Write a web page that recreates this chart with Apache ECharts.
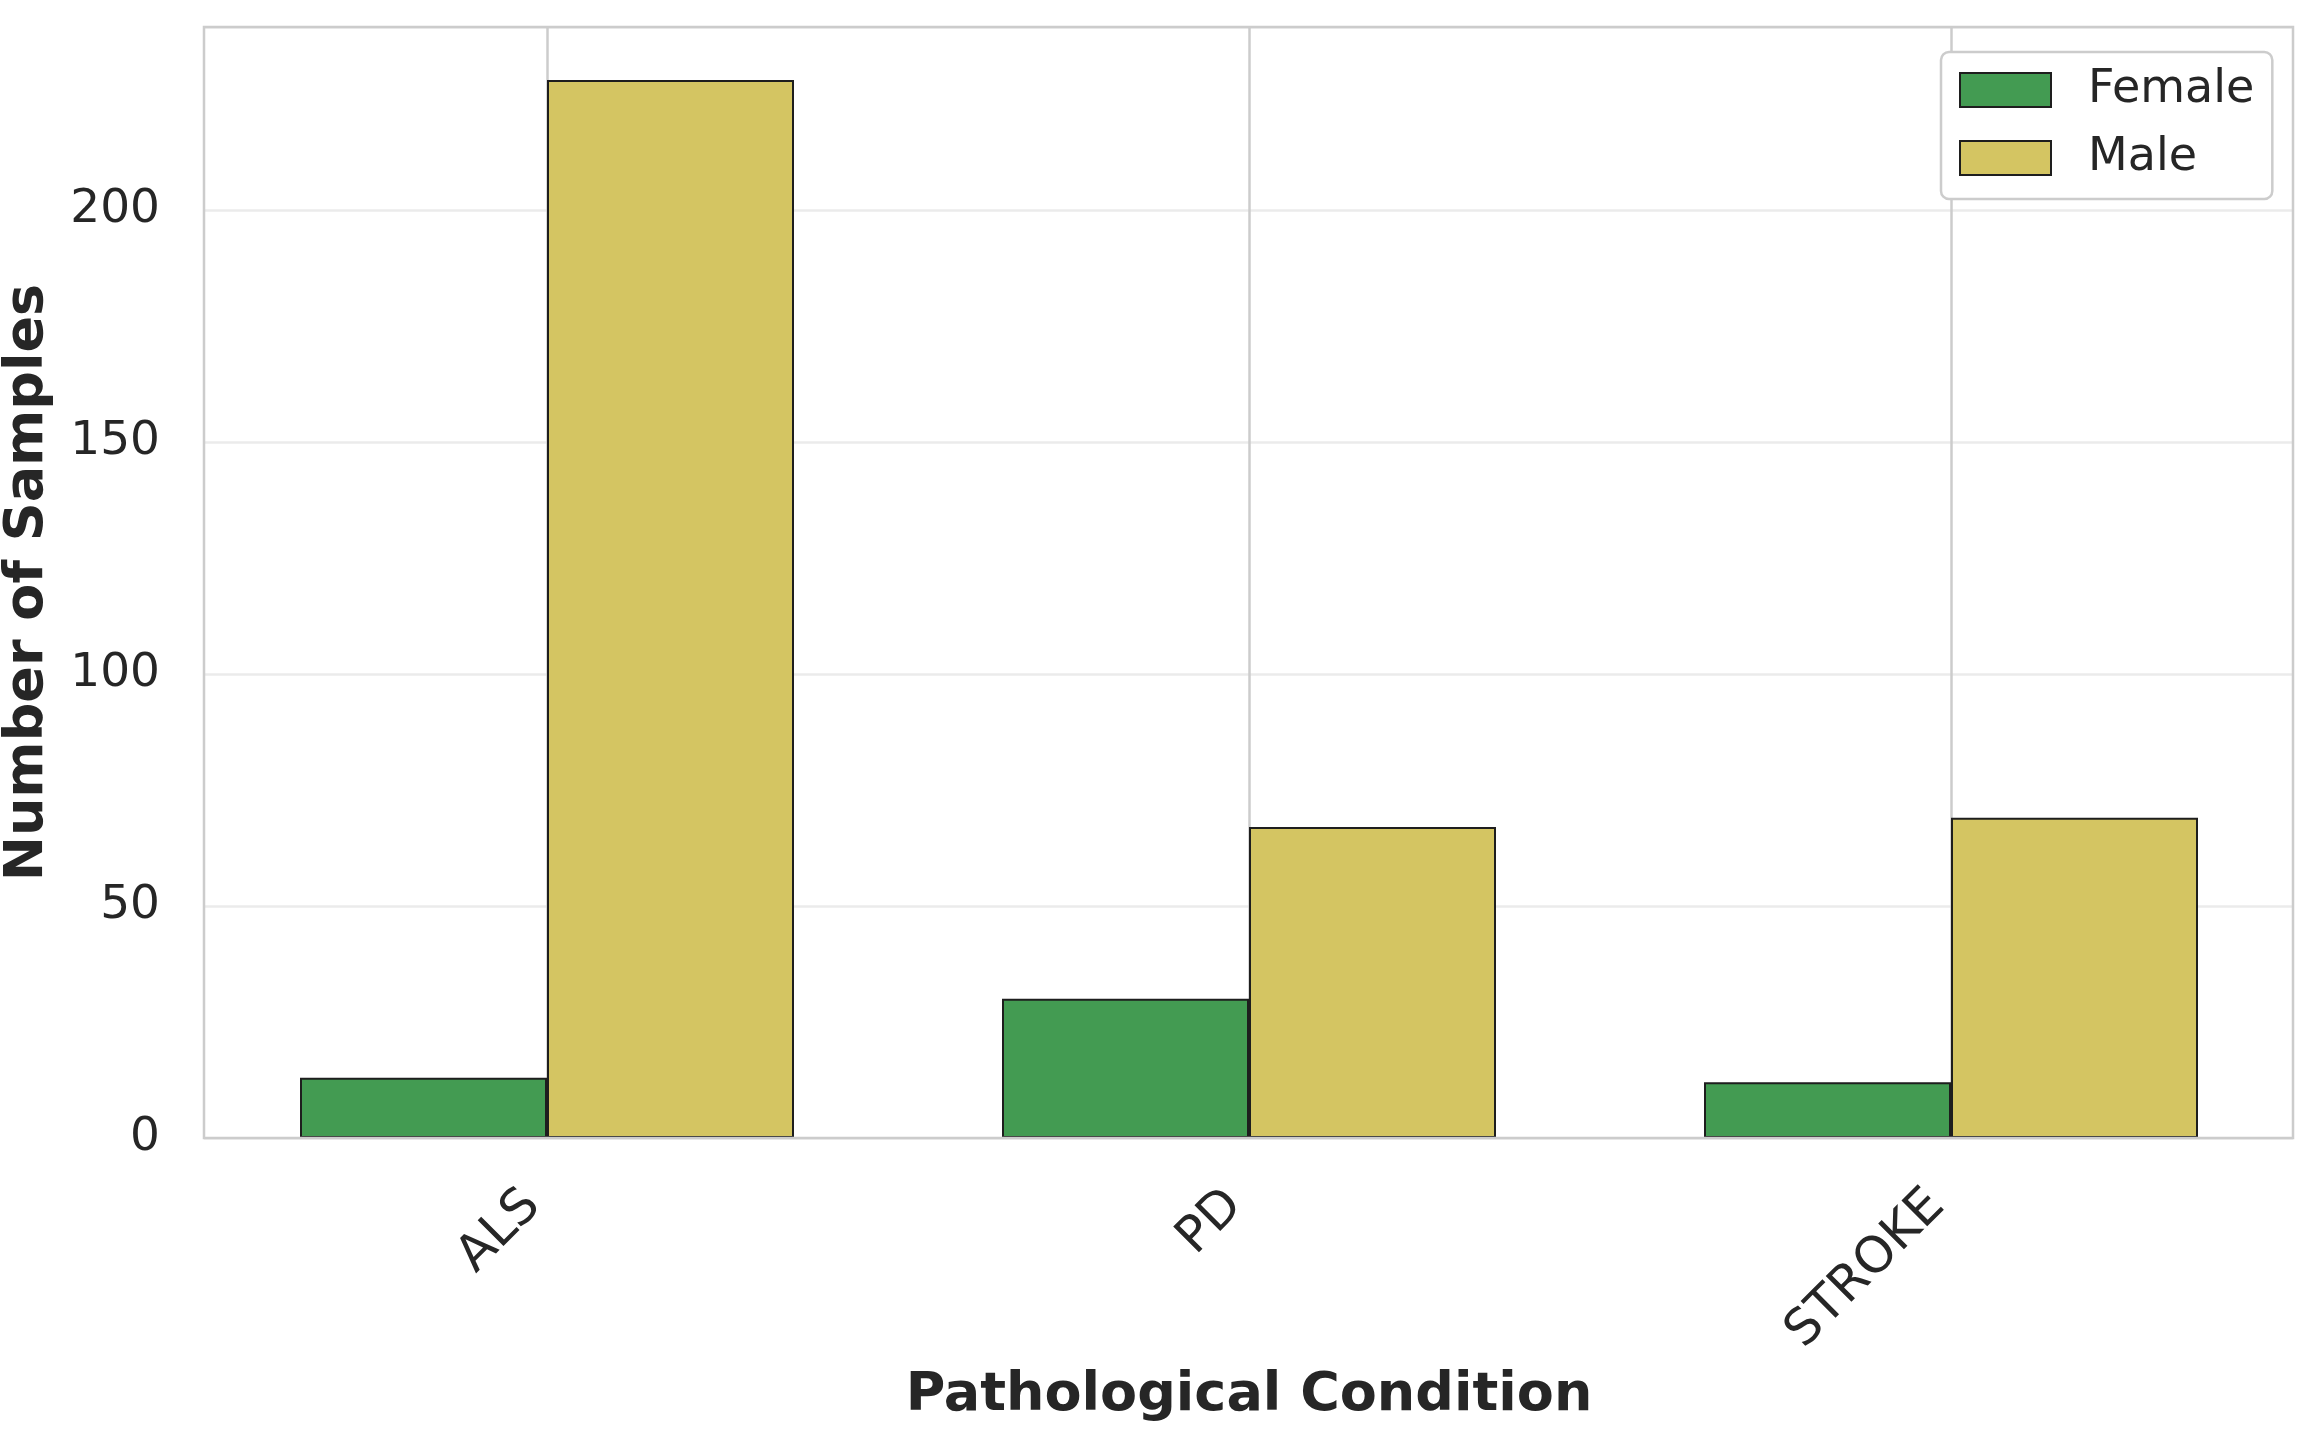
<!DOCTYPE html>
<html>
<head>
<meta charset="utf-8">
<script src="https://cdn.jsdelivr.net/npm/echarts@6/dist/echarts.min.js"></script>
<style>
  html, body { margin: 0; padding: 0; background: #ffffff; }
  #chart { width: 2323px; height: 1453px; }
</style>
</head>
<body>
<div id="chart"></div>
<script>
const categories = ['ALS', 'PD', 'STROKE'];
const femaleValues = [13, 30, 12];
const maleValues = [228, 67, 69];
const yTicks = [0, 50, 100, 150, 200];
const yMax = 239.4;

const FONT = 'DejaVu Sans';
const TEXT = '#262626';

const chart = echarts.init(document.getElementById('chart'), null, { renderer: 'canvas' });
chart.setOption({
  backgroundColor: '#ffffff',
  animation: false,
  textStyle: { fontFamily: FONT },
  grid: [
    { left: 204, right: 30, top: 27, bottom: 315, show: true, borderColor: '#cccccc', borderWidth: 2.5, backgroundColor: 'transparent', z: 10, outerBoundsMode: 'none', containLabel: false },
    { left: 547, right: 372, top: 27, bottom: 315, outerBoundsMode: 'none', containLabel: false }
  ],
  legend: {
    orient: 'vertical',
    left: 1941, top: 52,
    padding: [15, 18, 18, 18],
    itemWidth: 91, itemHeight: 34, itemGap: 22,
    borderColor: '#cccccc', borderWidth: 2.5, borderRadius: 8,
    backgroundColor: '#ffffff',
    icon: 'rect',
    textStyle: { fontFamily: FONT, fontSize: 46, color: TEXT, padding: [0, 0, 0, 32] },
    data: ['Female', 'Male'],
    z: 20
  },
  xAxis: [
    { type: 'value', gridIndex: 0, show: false, min: 0, max: 1 },
    {
      type: 'category', gridIndex: 1, data: categories, boundaryGap: false,
      axisLine: { show: false }, axisTick: { show: false },
      splitLine: { show: true, lineStyle: { color: '#cccccc', width: 2.5 } },
      axisLabel: { rotate: 45, fontSize: 50, color: TEXT, fontFamily: FONT, margin: 46, padding: [0, 20, 0, 0] },
      name: 'Pathological Condition', nameLocation: 'middle', nameGap: 231,
      nameTextStyle: { fontFamily: FONT, fontSize: 54, fontWeight: 'bold', color: TEXT }
    }
  ],
  yAxis: [
    {
      type: 'value', gridIndex: 0, min: 0, max: yMax, interval: 50,
      axisLine: { show: false }, axisTick: { show: false },
      splitLine: { show: true, lineStyle: { color: '#ebebeb', width: 2.5 } },
      axisLabel: {
        fontSize: 47, color: TEXT, fontFamily: FONT, margin: 44, showMaxLabel: false,
        formatter: v => (yTicks.includes(v) ? String(v) : '')
      },
      name: 'Number of Samples', nameLocation: 'middle', nameGap: 149,
      nameTextStyle: { fontFamily: FONT, fontSize: 54, fontWeight: 'bold', color: TEXT }
    },
    { type: 'value', gridIndex: 1, min: 0, max: yMax, show: false, splitLine: { show: false } }
  ],
  series: [
    {
      name: 'Female', type: 'bar', xAxisIndex: 1, yAxisIndex: 1, data: femaleValues,
      barWidth: 247, barGap: '0%', clip: false,
      itemStyle: { color: '#439b52', borderColor: '#1e1e1e', borderWidth: 2 }
    },
    {
      name: 'Male', type: 'bar', xAxisIndex: 1, yAxisIndex: 1, data: maleValues,
      barWidth: 247, barGap: '0%', clip: false,
      itemStyle: { color: '#d4c562', borderColor: '#1e1e1e', borderWidth: 2 }
    }
  ]
});
</script>
</body>
</html>
